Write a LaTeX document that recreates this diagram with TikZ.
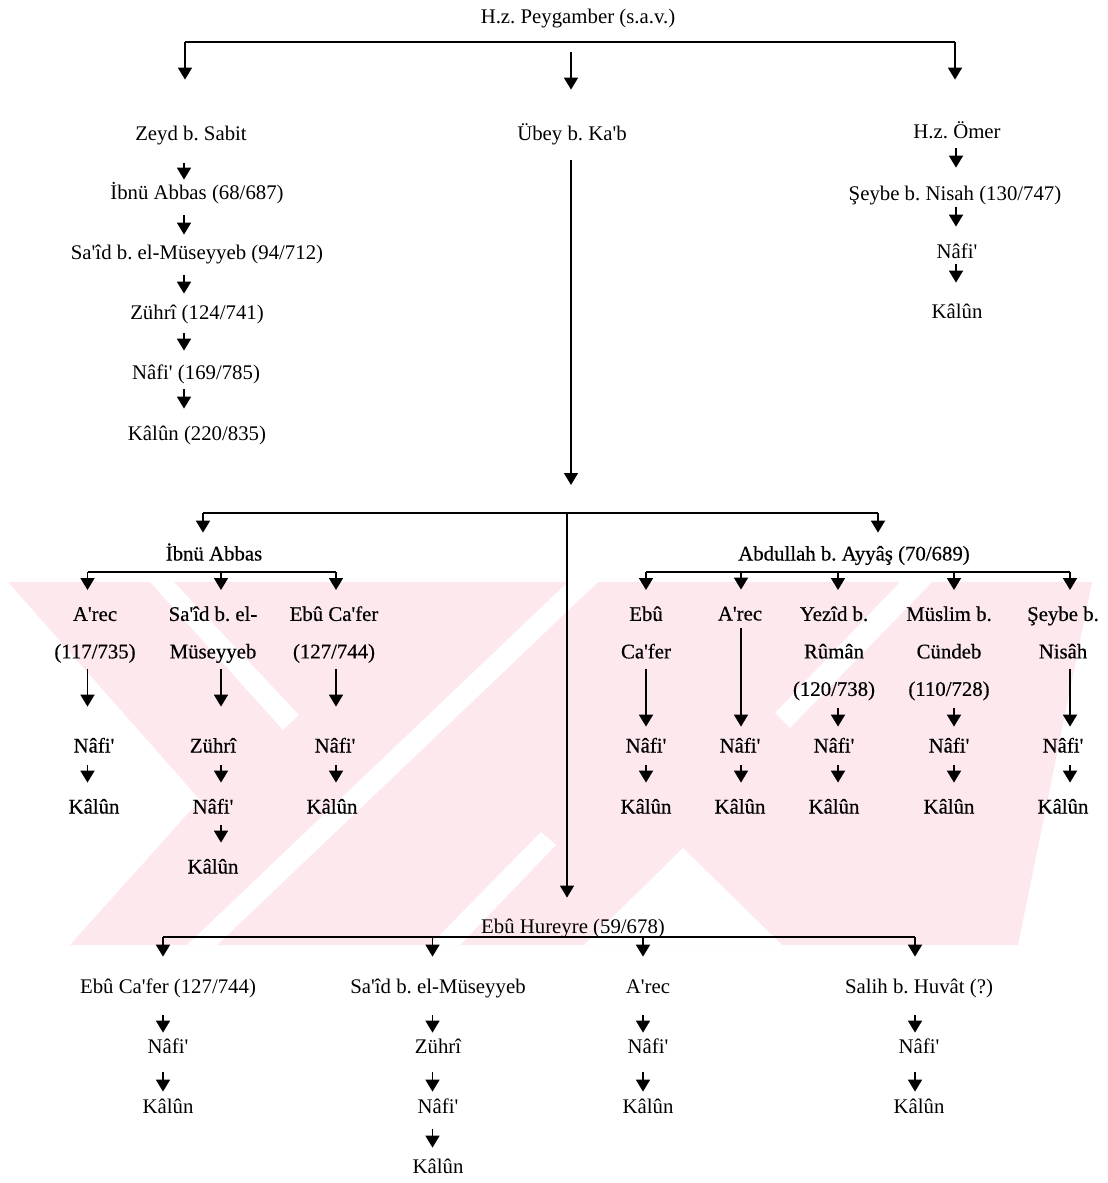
\documentclass[tikz,border=0pt]{standalone}
\usepackage{fontspec}
\setmainfont{Liberation Serif}[Ligatures=TeXOff]
\newfontfamily\heavy{Liberation Serif}[Ligatures=TeXOff,FakeBold=0.5]
\usetikzlibrary{arrows.meta,calc}
\definecolor{wm}{RGB}{252,232,237}
\newcommand{\st}{\rule[-2.5pt]{0pt}{12pt}}
\newcommand{\vlink}[5]{\draw[arr,shorten <=#4pt,shorten >=#5pt] (#1.south -| #3) -- (#2.north -| #3);}
\frenchspacing
\begin{document}
\begin{tikzpicture}[x=0.5pt,y=-0.5pt,
  lbl/.style={inner sep=0pt, font=\fontsize{10.4}{18.75}\selectfont, text height=9.5pt, text depth=2.5pt, anchor=center},
  hlbl/.style={lbl, font=\fontsize{10.4}{18.75}\heavy},
  mlbl/.style={inner sep=0pt, font=\fontsize{10.4}{18.75}\heavy, align=center, anchor=north},
  arr/.style={line width=0.9pt, -{Triangle[width=7pt,length=6pt]}},
  bar/.style={line width=1.3pt},
]
\useasboundingbox (0,0) rectangle (1108,1183);
% watermark
\begin{scope}
\clip (0,582) rectangle (1108,945);
\fill[wm] (8,582) -- (1092,582) -- (1018,945) -- (70,945) -- (200,800) -- cycle;
\fill[white] (150,582) -- (174,582) -- (299,715) -- (283,730) -- cycle;
\fill[white] (568,582) -- (598,582) -- (217,945) -- (187,945) -- cycle;
\fill[white] (430,945) -- (460,945) -- (556,845) -- (541,832) -- cycle;
\fill[white] (683,848) -- (782,945) -- (584,945) -- cycle;
\fill[white] (900,582) -- (932,582) -- (790,728) -- (775,713) -- cycle;
\end{scope}
% columns
\coordinate (cZ) at (184,0);
\coordinate (cO) at (956,0);
\coordinate (cU) at (571,0);
% top
\node[lbl] (peyg) at (578,16.5) {H.z. Peygamber (s.a.v.)};
\node[lbl] (zeyd) at (191,133.5) {Zeyd b. Sabit};
\node[lbl] (ubey) at (572,133.5) {Übey b. Ka'b};
\node[lbl] (omer) at (957,131.5) {H.z. Ömer};
\coordinate (barL) at (185,42);
\coordinate (barR) at (955,42);
\draw[bar] (barL) -- (barR);
\draw[arr,shorten >=20.75pt] (barL) -- (zeyd.north -| barL);
\draw[arr,shorten >=19.75pt] (barR) -- (omer.north -| barR);
\vlink{peyg}{ubey}{cU}{11.75}{15.75}
% Zeyd column
\node[lbl] (ibnu1) at (197,192.5) {İbnü Abbas (68/687)};
\node[lbl] (said1) at (197,252.5) {Sa'îd b. el-Müseyyeb (94/712)};
\node[lbl] (zuhri1) at (197,312.5) {Zührî (124/741)};
\node[lbl] (nafi1) at (196,372.5) {Nâfi' (169/785)};
\node[lbl] (kalun1) at (197,433.5) {Kâlûn (220/835)};
\vlink{zeyd}{ibnu1}{cZ}{8.75}{0.25}
\vlink{ibnu1}{said1}{cZ}{5.25}{2.75}
\vlink{said1}{zuhri1}{cZ}{5.25}{3.25}
\vlink{zuhri1}{nafi1}{cZ}{4.25}{4.75}
\vlink{nafi1}{kalun1}{cZ}{2.25}{6.25}
% Omer column
\node[lbl] (seybe1) at (955,193.5) {Şeybe b. Nisah (130/747)};
\node[lbl] (nafi2) at (957,251.5) {Nâfi'};
\node[lbl] (kalun2) at (957,311.5) {Kâlûn};
\vlink{omer}{seybe1}{cO}{2.25}{6.75}
\vlink{seybe1}{nafi2}{cO}{0.75}{6.25}
\vlink{nafi2}{kalun2}{cO}{0}{8.25}
% Ubey line
\coordinate (ubeyEnd) at (571,485);
\draw[arr,line width=0.7pt,shorten <=7.25pt] (ubey.south -| cU) -- (ubeyEnd);
% middle big bar
\node[hlbl] (ibnu2) at (214,553.5) {İbnü Abbas};
\node[hlbl] (abd) at (854,553.5) {Abdullah b. Ayyâş (70/689)};
\node[lbl] (hureyre) at (573,926.5) {Ebû Hureyre (59/678)};
\coordinate (bbL) at (203,513);
\coordinate (bbR) at (878,513);
\coordinate (bbM) at (567,513);
\draw[bar] (bbL) -- (bbR);
\draw[arr,shorten >=4.25pt] (bbL) -- (ibnu2.north -| bbL);
\draw[arr,shorten >=4.25pt] (bbR) -- (abd.north -| bbR);
\draw[arr,line width=0.7pt,shorten >=8.25pt] (bbM) -- (hureyre.north -| bbM);
% Ibnu Abbas group
\coordinate (sbL) at (87.5,572);
\coordinate (sbM) at (221,572);
\coordinate (sbR) at (336,572);
\draw[bar] (sbL) -- (sbR);
\node[mlbl] (arec1) at (95,601.5) {A'rec\st\\(117/735)\st};
\node[mlbl] (said2) at (213,601.5) {Sa'îd b. el-\st\\Müseyyeb\st};
\node[mlbl] (ebu1) at (334,601.5) {Ebû Ca'fer\st\\(127/744)\st};
\draw[arr,shorten >=5.75pt] (sbL) -- (arec1.north -| sbL);
\draw[arr,shorten >=5.75pt] (sbM) -- (said2.north -| sbM);
\draw[arr,shorten >=5.75pt] (sbR) -- (ebu1.north -| sbR);
\node[hlbl] (nafi3) at (94,745.5) {Nâfi'};
\node[hlbl] (zuhri3) at (213,745.5) {Zührî};
\node[hlbl] (nafi4) at (335,745.5) {Nâfi'};
\node[hlbl] (kalun3) at (94,806.5) {Kâlûn};
\node[hlbl] (nafi5) at (213,806.5) {Nâfi'};
\node[hlbl] (kalun4) at (332,806.5) {Kâlûn};
\node[hlbl] (kalun5) at (213,866.5) {Kâlûn};
\vlink{arec1}{nafi3}{sbL}{2.5}{13.25}
\vlink{said2}{zuhri3}{sbM}{2.5}{13.25}
\vlink{ebu1}{nafi4}{sbR}{2.5}{13.25}
\vlink{nafi3}{kalun3}{sbL}{3.75}{5.75}
\vlink{zuhri3}{nafi5}{sbM}{3.75}{5.75}
\vlink{nafi4}{kalun4}{sbR}{3.75}{5.75}
\vlink{nafi5}{kalun5}{sbM}{3.25}{5.75}
% Abdullah group
\coordinate (abL) at (646,572);
\coordinate (ab2) at (741,572);
\coordinate (ab3) at (838,572);
\coordinate (ab4) at (954,572);
\coordinate (abR) at (1070,572);
\draw[bar] (abL) -- (abR);
\node[mlbl] (ebu2) at (646,601.5) {Ebû\st\\Ca'fer\st};
\node[hlbl] (arec2) at (740,613.5) {A'rec};
\node[mlbl] (yezid) at (834,601.5) {Yezîd b.\st\\Rûmân\st\\(120/738)\st};
\node[mlbl] (muslim) at (949,601.5) {Müslim b.\st\\Cündeb\st\\(110/728)\st};
\node[mlbl] (seybe2) at (1063,601.5) {Şeybe b.\st\\Nisâh\st};
\draw[arr,shorten >=5.75pt] (abL) -- (ebu2.north -| abL);
\draw[arr,shorten >=5.75pt] (ab2) -- (arec2.north -| ab2);
\draw[arr,shorten >=5.75pt] (ab3) -- (yezid.north -| ab3);
\draw[arr,shorten >=5.75pt] (ab4) -- (muslim.north -| ab4);
\draw[arr,shorten >=5.75pt] (abR) -- (seybe2.north -| abR);
\node[hlbl] (nafi6) at (646,745.5) {Nâfi'};
\node[hlbl] (nafi7) at (740,745.5) {Nâfi'};
\node[hlbl] (nafi8) at (834,745.5) {Nâfi'};
\node[hlbl] (nafi9) at (949,745.5) {Nâfi'};
\node[hlbl] (nafi10) at (1063,745.5) {Nâfi'};
\node[hlbl] (kalun6) at (646,806.5) {Kâlûn};
\node[hlbl] (kalun7) at (740,806.5) {Kâlûn};
\node[hlbl] (kalun8) at (834,806.5) {Kâlûn};
\node[hlbl] (kalun9) at (949,806.5) {Kâlûn};
\node[hlbl] (kalun10) at (1063,806.5) {Kâlûn};
\vlink{ebu2}{nafi6}{abL}{2.5}{3.25}
\vlink{arec2}{nafi7}{ab2}{1.25}{3.25}
\vlink{yezid}{nafi8}{ab3}{3.25}{3.25}
\vlink{muslim}{nafi9}{ab4}{3.25}{3.25}
\vlink{seybe2}{nafi10}{abR}{2.5}{3.25}
\vlink{nafi6}{kalun6}{abL}{3.75}{5.75}
\vlink{nafi7}{kalun7}{ab2}{3.75}{5.75}
\vlink{nafi8}{kalun8}{ab3}{3.75}{5.75}
\vlink{nafi9}{kalun9}{ab4}{3.75}{5.75}
\vlink{nafi10}{kalun10}{abR}{3.75}{5.75}
% Ebu Hureyre group
\coordinate (hbL) at (163,937);
\coordinate (hb2) at (432.5,937);
\coordinate (hb3) at (643,937);
\coordinate (hbR) at (915,937);
\draw[bar] (hbL) -- (hbR);
\node[lbl] (ebu3) at (168,986.5) {Ebû Ca'fer (127/744)};
\node[lbl] (said3) at (438,986.5) {Sa'îd b. el-Müseyyeb};
\node[lbl] (arec3) at (648,986.5) {A'rec};
\node[lbl] (salih) at (919,986.5) {Salih b. Huvât (?)};
\draw[arr,shorten >=8.75pt] (hbL) -- (ebu3.north -| hbL);
\draw[arr,shorten >=8.75pt] (hb2) -- (said3.north -| hb2);
\draw[arr,shorten >=8.75pt] (hb3) -- (arec3.north -| hb3);
\draw[arr,shorten >=8.75pt] (hbR) -- (salih.north -| hbR);
\node[lbl] (nafi11) at (168,1046.5) {Nâfi'};
\node[lbl] (zuhri4) at (438,1046.5) {Zührî};
\node[lbl] (nafi12) at (648,1046.5) {Nâfi'};
\node[lbl] (nafi13) at (919,1046.5) {Nâfi'};
\node[lbl] (kalun11) at (168,1106.5) {Kâlûn};
\node[lbl] (nafi14) at (438,1106.5) {Nâfi'};
\node[lbl] (kalun12) at (648,1106.5) {Kâlûn};
\node[lbl] (kalun13) at (919,1106.5) {Kâlûn};
\node[lbl] (kalun14) at (438,1166.5) {Kâlûn};
\vlink{ebu3}{nafi11}{hbL}{8.25}{0.75}
\vlink{said3}{zuhri4}{hb2}{8.25}{0.75}
\vlink{arec3}{nafi12}{hb3}{8.25}{0.75}
\vlink{salih}{nafi13}{hbR}{8.25}{0.75}
\vlink{nafi11}{kalun11}{hbL}{6.75}{1.25}
\vlink{zuhri4}{nafi14}{hb2}{6.75}{1.25}
\vlink{nafi12}{kalun12}{hb3}{6.75}{1.25}
\vlink{nafi13}{kalun13}{hbR}{6.75}{1.25}
\vlink{nafi14}{kalun14}{hb2}{5.25}{3.25}
\end{tikzpicture}
\end{document}
